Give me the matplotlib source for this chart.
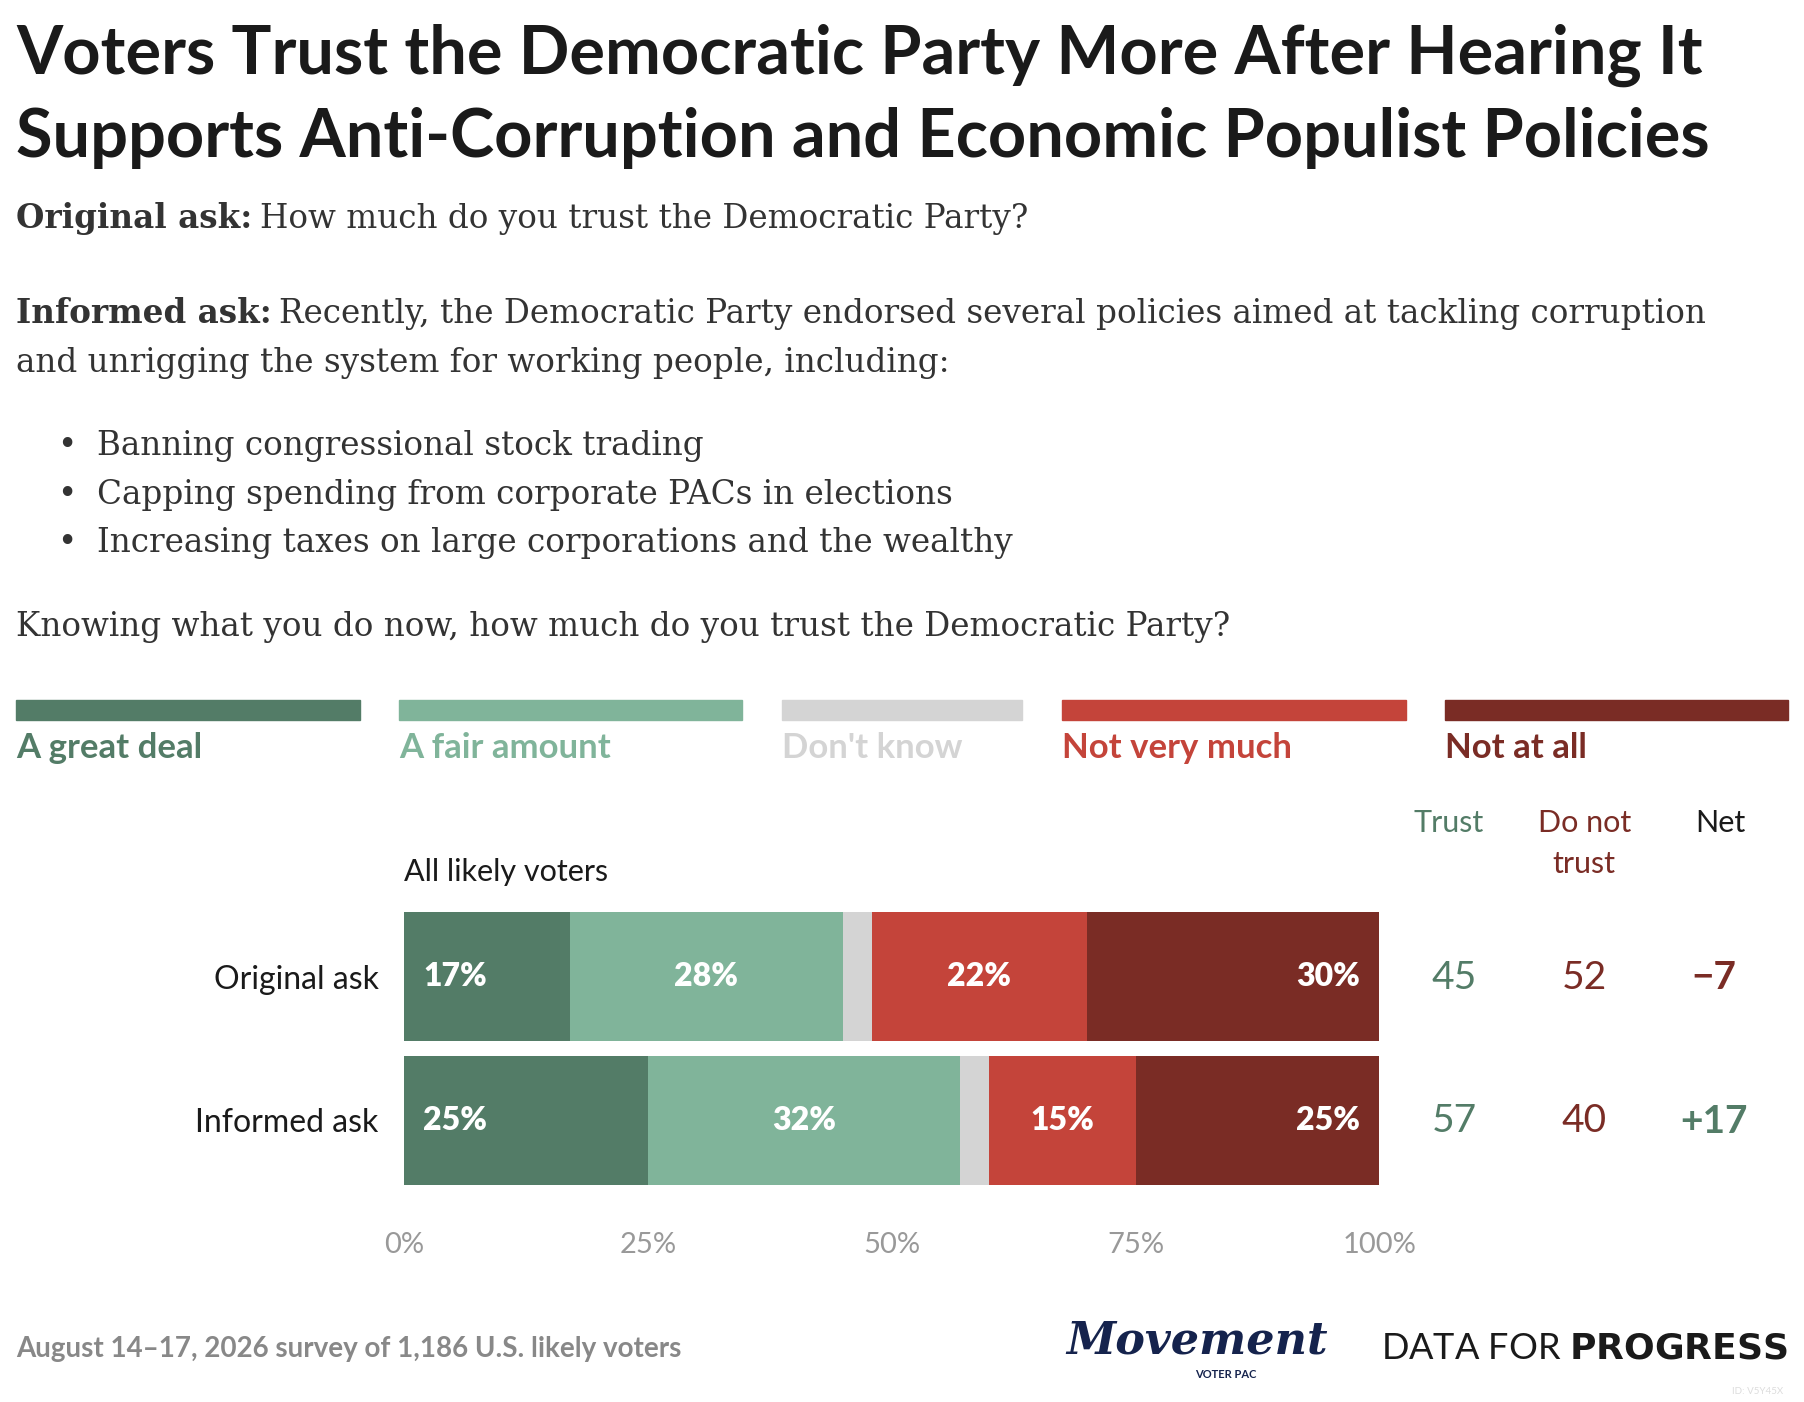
import matplotlib
matplotlib.use("Agg")
import matplotlib.pyplot as plt
import numpy as np

categories = ["Original ask", "Informed ask"]
responses = ["A great deal", "A fair amount", "Don't know", "Not very much", "Not at all"]
great_deal = [17, 25]
fair_amount = [28, 32]
dont_know = [3, 3]
not_very = [22, 15]
not_at_all = [30, 25]
trust = [45, 57]
no_trust = [52, 40]
net = ["\u22127", "+17"]
colors = ["#537c67", "#80b49a", "#d4d4d4", "#c4443a", "#7a2c25"]

W, H = 1568, 1219
fig = plt.figure(figsize=(18.04, 14.02), dpi=100)
plt.rcParams['font.family'] = ['Lato', 'DejaVu Sans']

def T(x, y, s, **kw):
    return fig.text(x / W, 1 - y / H, s, **kw)

T(14, 48, "Voters Trust the Democratic Party More After Hearing It", fontsize=48, fontweight='bold', va='center', color='#1a1a1a')
T(14, 120, "Supports Anti-Corruption and Economic Populist Policies", fontsize=48, fontweight='bold', va='center', color='#1a1a1a')

serif = dict(family=['DejaVu Serif'], fontsize=23.5, va='center', color='#333333')
renderer = fig.canvas.get_renderer()
def lead(y, bold, rest):
    t = T(14, y, bold, fontweight='bold', **serif)
    bb = t.get_window_extent(renderer=renderer)
    fig.text(bb.x1 / fig.bbox.width + 0.004, 1 - y / H, rest, **serif)
lead(190, "Original ask:", "How much do you trust the Democratic Party?")
lead(273, "Informed ask:", "Recently, the Democratic Party endorsed several policies aimed at tackling corruption")
T(14, 316, "and unrigging the system for working people, including:", **serif)
for y, s in [(388, "Banning congressional stock trading"), (430, "Capping spending from corporate PACs in elections"),
             (472, "Increasing taxes on large corporations and the wealthy")]:
    T(50, y, "\u2022", **serif)
    T(84, y, s, **serif)
T(14, 545, "Knowing what you do now, how much do you trust the Democratic Party?", **serif)

legx = [(14, 313), (347, 645), (680, 888), (923, 1222), (1256, 1554)]
for (a, b), c, lab in zip(legx, colors, responses):
    fig.patches.append(plt.Rectangle((a / W, 1 - 626 / H), (b - a) / W, 17 / H, color=c, transform=fig.transFigure))
    T(a, 650, lab, fontsize=25, fontweight='bold', color=c, va='center')

ax = fig.add_axes([351 / W, 1 - 1030 / H, (1199 - 351) / W, (1030 - 793) / H])
series = [great_deal, fair_amount, dont_know, not_very, not_at_all]
y = np.arange(len(categories))
left = np.zeros(len(categories))
for i, (vals, c) in enumerate(zip(series, colors)):
    vals = np.array(vals, dtype=float)
    ax.barh(y, vals, left=left, height=0.9, color=c, linewidth=0)
    if i != 2:
        for j in range(len(categories)):
            kw = dict(color='white', fontsize=23, fontweight='heavy', va='center')
            if i == 0:
                ax.text(left[j] + 2, y[j], f"{int(vals[j])}%", ha='left', **kw)
            elif i == 4:
                ax.text(left[j] + vals[j] - 2, y[j], f"{int(vals[j])}%", ha='right', **kw)
            else:
                ax.text(left[j] + vals[j] / 2, y[j], f"{int(vals[j])}%", ha='center', **kw)
    left += vals
ax.set_xlim(0, 100)
ax.set_ylim(1.45, -0.45)
ax.set_yticks(y)
ax.set_yticklabels(categories, fontsize=23, color='#1a1a1a')
ax.tick_params(axis='y', length=0, pad=18)
ax.set_xticks([0, 25, 50, 75, 100])
ax.set_xticklabels(["0%", "25%", "50%", "75%", "100%"], fontsize=21, color='#999999')
ax.tick_params(axis='x', length=0, pad=34)
for s in ax.spines.values():
    s.set_visible(False)

T(351, 758, "All likely voters", fontsize=22, va='center', color='#1a1a1a')
T(1259, 716, "Trust", fontsize=22, ha='center', va='center', color='#537c67')
T(1377, 716, "Do not", fontsize=22, ha='center', va='center', color='#7a2c25')
T(1377, 751, "trust", fontsize=22, ha='center', va='center', color='#7a2c25')
T(1495, 716, "Net", fontsize=22, ha='center', va='center', color='#1a1a1a')
for j, yy in enumerate([850, 975]):
    T(1264, yy, str(trust[j]), fontsize=28, ha='center', va='center', color='#537c67')
    T(1377, yy, str(no_trust[j]), fontsize=28, ha='center', va='center', color='#7a2c25')
    T(1490, yy, net[j], fontsize=28, fontweight='bold', ha='center', va='center',
      color='#7a2c25' if net[j].startswith('\u2212') else '#537c67')

T(14, 1173, "August 14\u201317, 2026 survey of 1,186 U.S. likely voters", fontsize=20, fontweight='bold', va='center', color='#888888')
T(1040, 1166, "Movement", fontsize=32, fontweight='heavy', style='italic', ha='center', va='center', color='#15234d', family=['DejaVu Serif'])
T(1065, 1195, "VOTER PAC", fontsize=8, fontweight='bold', ha='center', va='center', color='#15234d')
fig.text(1554 / W, 1 - 1172 / H, r"DATA FOR $\it{\bf{PROGRESS}}$", fontsize=26, ha='right', va='center', color='#1a1a1a')
T(1550, 1210, "ID: V5Y45X", fontsize=7, ha='right', va='center', color='#dddddd')

fig.savefig("out.png", dpi=100, facecolor='white')
